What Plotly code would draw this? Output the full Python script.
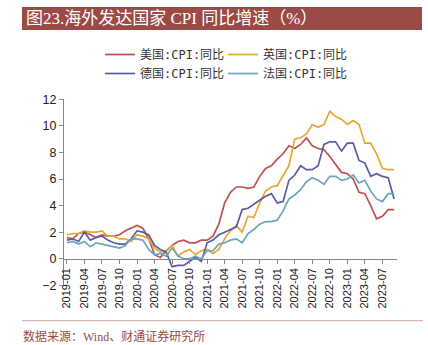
import plotly.graph_objects as go

months = [f"{y}-{m:02d}" for y in range(2019, 2024) for m in range(1, 13)][:57]
tick_months = months[::3]

us = [1.6,1.5,1.9,2.0,1.8,1.6,1.8,1.7,1.7,1.8,2.1,2.3,
      2.5,2.3,1.5,0.3,0.1,0.6,1.0,1.3,1.4,1.2,1.2,1.4,
      1.4,1.7,2.6,4.2,5.0,5.4,5.4,5.3,5.4,6.2,6.8,7.0,
      7.5,7.9,8.5,8.3,8.6,9.1,8.5,8.3,8.2,7.7,7.1,6.5,
      6.4,6.0,5.0,4.9,4.0,3.0,3.2,3.7,3.7]
uk = [1.8,1.9,1.9,2.1,2.0,2.0,2.1,1.7,1.7,1.5,1.5,1.3,
      1.8,1.7,1.5,0.8,0.5,0.6,1.0,0.2,0.5,0.7,0.3,0.6,
      0.7,0.4,0.7,1.5,2.1,2.5,2.0,3.2,3.1,4.2,5.1,5.4,
      5.5,6.2,7.0,9.0,9.1,9.4,10.1,9.9,10.1,11.1,10.7,10.5,
      10.1,10.4,10.1,8.7,8.7,7.9,6.8,6.7,6.7]
de = [1.4,1.5,1.3,2.0,1.4,1.6,1.7,1.4,1.2,1.1,1.1,1.5,
      2.1,2.0,1.8,1.0,0.7,0.5,-0.6,-0.5,-0.5,-0.2,0.1,-0.2,
      1.2,1.4,1.8,2.0,2.2,2.4,3.7,3.8,4.1,4.4,4.7,4.9,
      4.2,4.3,5.9,6.3,7.0,6.7,6.7,7.0,8.6,8.8,8.8,8.1,
      8.7,8.7,7.4,7.2,6.2,6.4,6.2,6.1,4.5]
fr = [1.2,1.3,1.1,1.3,0.9,1.2,1.1,1.0,0.9,0.8,1.0,1.5,
      1.5,1.4,0.7,0.3,0.4,0.2,0.8,0.2,0.0,0.0,0.2,0.0,
      0.6,0.6,1.1,1.2,1.4,1.5,1.2,1.9,2.2,2.6,2.8,2.8,
      2.9,3.6,4.5,4.8,5.2,5.8,6.1,5.9,5.6,6.2,6.2,5.9,
      6.0,6.3,5.7,5.9,5.1,4.5,4.3,4.9,4.9]

# (name, values, colour, legend column)
series = [
    ("美国:CPI:同比", us, "#C0504D", "legend"),
    ("英国:CPI:同比", uk, "#E8A531", "legend2"),
    ("德国:CPI:同比", de, "#5A5DA6", "legend"),
    ("法国:CPI:同比", fr, "#6CA6BD", "legend2"),
]

W, H = 428, 345
def px(x):
    return x / W
def py(y):
    return 1 - y / H

fig = go.Figure()
for name, vals, col, leg in series:
    fig.add_trace(go.Scatter(x=months, y=vals, name=name, mode="lines", legend=leg,
                             line=dict(color=col, width=1.7)))

ytop, ybot = 99.3, 285.3
ydom = [py(ybot), py(ytop)]
zero_pos = ydom[0] + (ydom[1] - ydom[0]) * (0 - (-2)) / 14

legfont = dict(family="DejaVu Sans Mono, Noto Sans CJK SC", size=12, color="#333333")

fig.update_layout(
    width=W, height=H,
    margin=dict(l=0, r=0, t=0, b=0, pad=0),
    paper_bgcolor="white", plot_bgcolor="white",
    showlegend=True,
    legend=dict(orientation="v", x=px(100), y=py(40), xanchor="left", yanchor="top",
                font=legfont, itemwidth=30, bgcolor="rgba(0,0,0,0)", tracegroupgap=0),
    legend2=dict(orientation="v", x=px(223), y=py(40), xanchor="left", yanchor="top",
                 font=legfont, itemwidth=30, bgcolor="rgba(0,0,0,0)", tracegroupgap=0),
    xaxis=dict(type="category", domain=[px(64), px(397)], range=[-0.5, 56.5],
               anchor="free", position=zero_pos, automargin=False,
               tickmode="array", tickvals=tick_months, ticktext=tick_months,
               tickangle=-90, ticks="outside", ticklen=4, tickcolor="#888888",
               showline=True, linecolor="#888888", linewidth=1,
               showgrid=False, zeroline=False,
               tickfont=dict(family="Liberation Sans, Arial", size=11, color="#222222")),
    yaxis=dict(domain=ydom, range=[-2, 12], dtick=2, tick0=0, automargin=False,
               ticks="outside", ticklen=4, tickcolor="#888888",
               showline=True, linecolor="#888888", linewidth=1,
               showgrid=False, zeroline=False,
               tickfont=dict(family="Liberation Sans, Arial", size=12.5, color="#222222")),
    shapes=[
        dict(type="rect", xref="paper", yref="paper", x0=px(22), x1=px(422),
             y0=py(30), y1=py(7), fillcolor="#9C4A46", line=dict(width=0), layer="below"),
        dict(type="line", xref="paper", yref="paper", x0=px(22), x1=px(423),
             y0=py(320.7), y1=py(320.7), line=dict(color="#D4A5A3", width=1)),
    ],
    annotations=[
        dict(text="图23.海外发达国家 CPI 同比增速（%）", xref="paper", yref="paper",
             x=px(24), y=py(18.5), xanchor="left", yanchor="middle", showarrow=False,
             font=dict(family="Liberation Serif, Noto Sans CJK SC", size=17, color="white")),
        dict(text="数据来源：Wind、财通证券研究所", xref="paper", yref="paper",
             x=px(21), y=py(336), xanchor="left", yanchor="middle", showarrow=False,
             font=dict(family="Liberation Serif, Noto Sans CJK SC", size=12, color="#9C4A46")),
    ],
)

fig.write_html("out.html")
